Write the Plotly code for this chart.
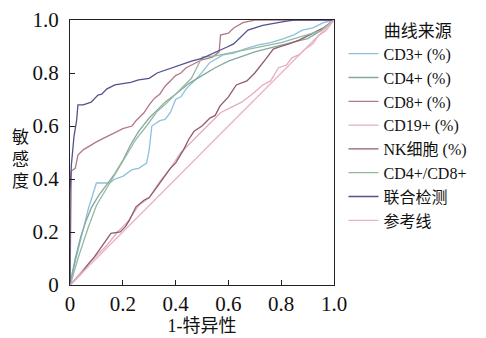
import plotly.graph_objects as go

# ---- data ----
names = ["CD3+ (%)", "CD4+ (%)", "CD8+ (%)", "CD19+ (%)", "NK细胞 (%)", "CD4+/CD8+", "联合检测", "参考线"]
colors = ["#8ec0dc", "#84a8a0", "#b07888", "#e2aebb", "#8e5c6c", "#96b8a0", "#52528e", "#eab2c2"]

cd3_x = [0, 0.01, 0.03, 0.045, 0.057, 0.07, 0.083, 0.1, 0.15, 0.17, 0.2, 0.235, 0.26, 0.29, 0.3, 0.31, 0.34, 0.36, 0.38, 0.4, 0.42, 0.44, 0.47, 0.49, 0.53, 0.58, 0.62, 0.66, 0.71, 0.76, 0.81, 0.85, 0.88, 0.92, 0.96, 1.0]
cd3_y = [0, 0.05, 0.13, 0.19, 0.23, 0.29, 0.33, 0.385, 0.385, 0.40, 0.41, 0.435, 0.44, 0.46, 0.51, 0.60, 0.62, 0.625, 0.65, 0.70, 0.71, 0.74, 0.77, 0.79, 0.84, 0.868, 0.875, 0.89, 0.905, 0.915, 0.93, 0.945, 0.962, 0.97, 0.99, 1.0]

cd4_x = [0, 0.01, 0.02, 0.04, 0.06, 0.08, 0.11, 0.14, 0.17, 0.2, 0.23, 0.26, 0.3, 0.33, 0.36, 0.4, 0.45, 0.5, 0.55, 0.6, 0.7, 0.8, 0.9, 0.95, 1.0]
cd4_y = [0, 0.05, 0.1, 0.18, 0.24, 0.29, 0.34, 0.38, 0.42, 0.47, 0.53, 0.58, 0.63, 0.66, 0.69, 0.72, 0.76, 0.79, 0.82, 0.845, 0.88, 0.905, 0.93, 0.96, 1.0]

cd8_x = [0, 0.005, 0.02, 0.03, 0.05, 0.08, 0.1, 0.13, 0.15, 0.18, 0.2, 0.235, 0.25, 0.27, 0.28, 0.3, 0.32, 0.34, 0.36, 0.38, 0.4, 0.42, 0.44, 0.47, 0.5, 0.54, 0.565, 0.57, 0.6, 0.62, 0.655, 0.7, 1.0]
cd8_y = [0, 0.43, 0.44, 0.49, 0.51, 0.53, 0.54, 0.555, 0.566, 0.58, 0.59, 0.60, 0.62, 0.64, 0.65, 0.68, 0.705, 0.72, 0.75, 0.77, 0.79, 0.80, 0.82, 0.835, 0.85, 0.86, 0.88, 0.943, 0.95, 0.97, 0.99, 1.0, 1.0]

cd19_x = [0, 0.03, 0.06, 0.1, 0.14, 0.18, 0.22, 0.26, 0.3, 0.34, 0.38, 0.42, 0.46, 0.5, 0.54, 0.57, 0.61, 0.65, 0.69, 0.73, 0.76, 0.79, 0.82, 0.84, 0.87, 0.89, 0.92, 0.94, 0.97, 1.0]
cd19_y = [0, 0.035, 0.07, 0.11, 0.15, 0.2, 0.24, 0.3, 0.33, 0.39, 0.44, 0.5, 0.54, 0.58, 0.62, 0.65, 0.67, 0.69, 0.72, 0.755, 0.77, 0.82, 0.83, 0.857, 0.87, 0.89, 0.91, 0.94, 0.96, 1.0]

nk_x = [0, 0.04, 0.07, 0.093, 0.12, 0.155, 0.19, 0.21, 0.225, 0.25, 0.28, 0.3, 0.33, 0.35, 0.38, 0.4, 0.43, 0.45, 0.47, 0.5, 0.53, 0.55, 0.568, 0.6, 0.63, 0.67, 0.7, 0.745, 0.77, 0.79, 0.83, 0.87, 0.92, 0.96, 1.0]
nk_y = [0, 0.04, 0.08, 0.107, 0.145, 0.195, 0.20, 0.22, 0.245, 0.295, 0.32, 0.33, 0.37, 0.40, 0.44, 0.46, 0.51, 0.55, 0.58, 0.60, 0.63, 0.64, 0.675, 0.71, 0.755, 0.77, 0.80, 0.857, 0.89, 0.898, 0.91, 0.925, 0.95, 0.97, 1.0]

cd48_x = [0, 0.01, 0.03, 0.05, 0.07, 0.1, 0.13, 0.16, 0.19, 0.22, 0.25, 0.29, 0.33, 0.37, 0.4, 0.43, 0.46, 0.48, 0.5, 0.55, 0.6, 0.65, 0.7, 0.75, 0.8, 0.85, 0.9, 0.95, 1.0]
cd48_y = [0, 0.03, 0.1, 0.16, 0.22, 0.3, 0.35, 0.4, 0.45, 0.5, 0.55, 0.6, 0.655, 0.69, 0.72, 0.75, 0.78, 0.82, 0.86, 0.865, 0.875, 0.885, 0.895, 0.905, 0.915, 0.93, 0.945, 0.96, 1.0]

comb_x = [0, 0, 0.005, 0.01, 0.015, 0.02, 0.025, 0.03, 0.05, 0.08, 0.106, 0.12, 0.14, 0.17, 0.2, 0.23, 0.26, 0.3, 0.33, 0.36, 0.4, 0.43, 0.46, 0.5, 0.53, 0.56, 0.595, 0.62, 0.644, 0.674, 0.73, 0.78, 0.82, 0.85, 1.0]
comb_y = [0, 0.35, 0.45, 0.51, 0.56, 0.59, 0.62, 0.68, 0.68, 0.69, 0.717, 0.72, 0.74, 0.755, 0.76, 0.765, 0.774, 0.78, 0.80, 0.81, 0.825, 0.835, 0.845, 0.855, 0.868, 0.88, 0.898, 0.91, 0.932, 0.962, 0.98, 0.99, 0.996, 1.0, 1.0]

ref_x = [0, 1]
ref_y = [0, 1]

series_x = [cd3_x, cd4_x, cd8_x, cd19_x, nk_x, cd48_x, comb_x, ref_x]
series_y = [cd3_y, cd4_y, cd8_y, cd19_y, nk_y, cd48_y, comb_y, ref_y]

tick_vals = [0, 0.2, 0.4, 0.6, 0.8, 1.0]
tick_text = ["0", "0.2", "0.4", "0.6", "0.8", "1.0"]

FONT = "Liberation Serif, Times New Roman, Noto Sans CJK SC, serif"

fig = go.Figure()
for nm, c, xs, ys in zip(names, colors, series_x, series_y):
    fig.add_trace(go.Scatter(x=xs, y=ys, mode="lines", name=nm,
                             line=dict(color=c, width=1.3)))

axis_common = dict(range=[0, 1], tickvals=tick_vals, ticktext=tick_text,
                   ticks="inside", ticklen=5, tickcolor="#222", tickwidth=1,
                   showline=True, linecolor="#222", linewidth=1.2, mirror=True,
                   showgrid=False, zeroline=False, automargin=False,
                   tickfont=dict(family=FONT, size=21, color="#111"))

fig.update_layout(
    width=486, height=338,
    margin=dict(l=62, r=160, t=12, b=61, autoexpand=False),
    paper_bgcolor="white", plot_bgcolor="white",
    font=dict(family=FONT, color="#111"),
    xaxis=dict(**axis_common, ticklabelstandoff=0,
               title=dict(text="1-特异性", font=dict(family=FONT, size=18), standoff=4)),
    yaxis=dict(**axis_common, ticklabelstandoff=6),
    showlegend=True,
    legend=dict(x=1.036, y=1.02, xanchor="left", yanchor="top",
                font=dict(family=FONT, size=16, color="#111"),
                title=dict(text="\u00a0" * 9 + "曲线来源", font=dict(family=FONT, size=17, color="#111")),
                bgcolor="rgba(0,0,0,0)", itemwidth=30, tracegroupgap=0,
                maxheight=1.0),
    annotations=[dict(text="敏<br>感<br>度", xref="paper", yref="paper",
                      x=-0.189, y=0.475, xanchor="center", yanchor="middle",
                      showarrow=False, font=dict(family=FONT, size=17, color="#111"))],
)

fig.write_html("out.html")
